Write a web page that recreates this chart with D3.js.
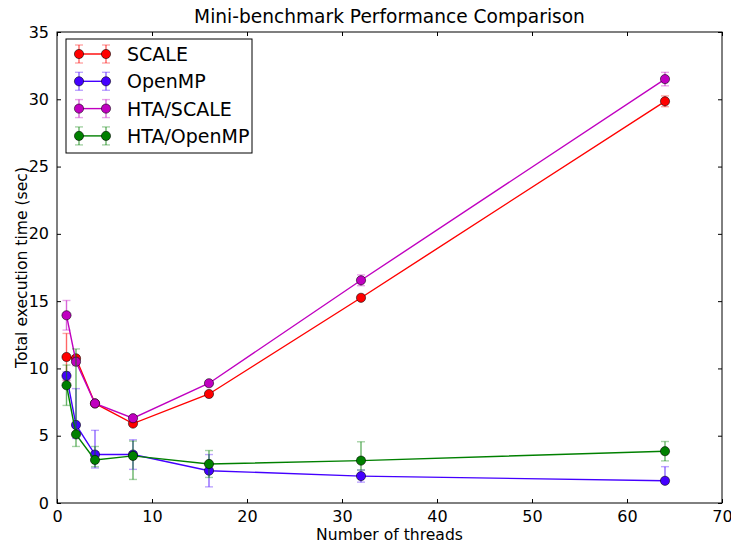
<!DOCTYPE html>
<html>
<head>
<meta charset="utf-8">
<script src="https://cdn.jsdelivr.net/npm/d3@7"></script>
<style>
  body { margin: 0; background: #fff; }
  text { font-family: "DejaVu Sans", sans-serif; fill: #000; }
</style>
</head>
<body>
<div id="chart"></div>
<script>
// threads
var threads = [1, 2, 4, 8, 16, 32, 64];

var seriesNames = ["SCALE", "OpenMP", "HTA/SCALE", "HTA/OpenMP"];
var seriesColors = ["#ff0000", "#4400ff", "#c000c0", "#008000"];

var scaleTimes = [10.85, 10.75, 7.4, 5.9, 8.1, 15.25, 29.85];
var scaleErrLow = [1.75, 0.2, 0.1, 0.1, 0.1, 0.1, 0.4];
var scaleErrHigh = [1.75, 0.2, 0.1, 0.1, 0.1, 0.1, 0.4];

var openmpTimes = [9.45, 5.8, 3.6, 3.6, 2.4, 2.0, 1.65];
var openmpErrLow = [0.3, 1.0, 1.0, 1.1, 1.2, 0.45, 0.2];
var openmpErrHigh = [0.3, 2.7, 1.8, 1.1, 1.2, 0.45, 1.05];

var htaScaleTimes = [13.95, 10.5, 7.4, 6.3, 8.9, 16.55, 31.5];
var htaScaleErrLow = [1.1, 0.3, 0.1, 0.15, 0.15, 0.4, 0.5];
var htaScaleErrHigh = [1.1, 0.3, 0.1, 0.15, 0.15, 0.4, 0.5];

var htaOpenmpTimes = [8.75, 5.1, 3.2, 3.5, 2.9, 3.15, 3.85];
var htaOpenmpErrLow = [1.5, 0.9, 0.5, 1.75, 1.0, 0.7, 0.72];
var htaOpenmpErrHigh = [1.5, 6.35, 1.0, 1.1, 1.0, 1.4, 0.72];

var xTicks = [0, 10, 20, 30, 40, 50, 60, 70];
var yTicks = [0, 5, 10, 15, 20, 25, 30, 35];

var width = 731, height = 544;
var margin = {left: 57, right: 9, top: 32, bottom: 41};

var svg = d3.select("#chart").append("svg")
    .attr("width", width)
    .attr("height", height);

var x = d3.scaleLinear().domain([0, 70]).range([margin.left, width - margin.right]);
var y = d3.scaleLinear().domain([0, 35]).range([height - margin.bottom, margin.top]);

var series = [
    {vals: scaleTimes, lo: scaleErrLow, hi: scaleErrHigh},
    {vals: openmpTimes, lo: openmpErrLow, hi: openmpErrHigh},
    {vals: htaScaleTimes, lo: htaScaleErrLow, hi: htaScaleErrHigh},
    {vals: htaOpenmpTimes, lo: htaOpenmpErrLow, hi: htaOpenmpErrHigh}
];

var plot = svg.append("g");

series.forEach(function (s, k) {
    var col = seriesColors[k];
    var pts = threads.map(function (t, i) {
        return {x: t, y: s.vals[i], lo: s.vals[i] - s.lo[i], hi: s.vals[i] + s.hi[i]};
    });
    var g = plot.append("g");
    g.append("path")
        .datum(pts)
        .attr("fill", "none")
        .attr("stroke", col)
        .attr("stroke-width", 1.4)
        .attr("d", d3.line().x(function (d) { return x(d.x); }).y(function (d) { return y(d.y); }));
    // error bars (semi transparent)
    var eb = g.append("g").attr("stroke", col).attr("stroke-opacity", 0.6).attr("stroke-width", 1.4);
    eb.selectAll("line.bar").data(pts).enter().append("line")
        .attr("x1", function (d) { return x(d.x); })
        .attr("x2", function (d) { return x(d.x); })
        .attr("y1", function (d) { return y(d.lo); })
        .attr("y2", function (d) { return y(d.hi); });
    ["lo", "hi"].forEach(function (key) {
        eb.selectAll("line.cap" + key).data(pts).enter().append("line")
            .attr("x1", function (d) { return x(d.x) - 4; })
            .attr("x2", function (d) { return x(d.x) + 4; })
            .attr("y1", function (d) { return y(d[key]); })
            .attr("y2", function (d) { return y(d[key]); })
            .attr("stroke-opacity", 0.35);
    });
    g.selectAll("circle").data(pts).enter().append("circle")
        .attr("cx", function (d) { return x(d.x); })
        .attr("cy", function (d) { return y(d.y); })
        .attr("r", 4.6)
        .attr("fill", col)
        .attr("stroke", "#000")
        .attr("stroke-opacity", 0.7)
        .attr("stroke-width", 0.8);
});

// frame
svg.append("rect")
    .attr("x", margin.left).attr("y", margin.top)
    .attr("width", width - margin.left - margin.right)
    .attr("height", height - margin.top - margin.bottom)
    .attr("fill", "none").attr("stroke", "#000").attr("stroke-width", 1);

// axes with inward ticks on all sides
var xAxisB = d3.axisBottom(x).tickValues(xTicks).tickSizeInner(-4).tickSizeOuter(0).tickPadding(8);
var xAxisT = d3.axisTop(x).tickValues(xTicks).tickSizeInner(-4).tickSizeOuter(0).tickFormat("");
var yAxisL = d3.axisLeft(y).tickValues(yTicks).tickSizeInner(-4).tickSizeOuter(0).tickPadding(8);
var yAxisR = d3.axisRight(y).tickValues(yTicks).tickSizeInner(-4).tickSizeOuter(0).tickFormat("");

function styleAxis(g) {
    g.select(".domain").remove();
    g.selectAll("text").style("font-size", "16px").attr("font-family", "DejaVu Sans").attr("fill", "#000");
}

svg.append("g").attr("transform", "translate(0," + (height - margin.bottom) + ")").call(xAxisB).call(styleAxis);
svg.append("g").attr("transform", "translate(0," + margin.top + ")").call(xAxisT).call(styleAxis);
svg.append("g").attr("transform", "translate(" + margin.left + ",0)").call(yAxisL).call(styleAxis);
svg.append("g").attr("transform", "translate(" + (width - margin.right) + ",0)").call(yAxisR).call(styleAxis);

// title and labels
svg.append("text")
    .attr("x", (x(0) + x(70)) / 2).attr("y", 23)
    .attr("text-anchor", "middle").style("font-size", "18.6px")
    .text("Mini-benchmark Performance Comparison");
svg.append("text")
    .attr("x", (x(0) + x(70)) / 2).attr("y", 540)
    .attr("text-anchor", "middle").style("font-size", "15.6px")
    .text("Number of threads");
svg.append("text")
    .attr("transform", "translate(27," + (y(17.5)) + ") rotate(-90)")
    .attr("text-anchor", "middle").style("font-size", "15.6px")
    .text("Total execution time (sec)");

// legend
var legend = svg.append("g").attr("transform", "translate(66,39)");
legend.append("rect")
    .attr("width", 186).attr("height", 114)
    .attr("fill", "#fff").attr("stroke", "#000").attr("stroke-width", 1);
seriesNames.forEach(function (name, k) {
    var col = seriesColors[k];
    var ly = 15 + k * 27.3;
    var row = legend.append("g").attr("transform", "translate(0," + ly + ")");
    row.append("line").attr("x1", 13).attr("x2", 40).attr("y1", 0).attr("y2", 0)
        .attr("stroke", col).attr("stroke-width", 1.4);
    [13, 40].forEach(function (cx) {
        row.append("line").attr("x1", cx).attr("x2", cx).attr("y1", -9).attr("y2", 9)
            .attr("stroke", col).attr("stroke-opacity", 0.6).attr("stroke-width", 1.4);
        row.append("line").attr("x1", cx - 4).attr("x2", cx + 4).attr("y1", -9).attr("y2", -9)
            .attr("stroke", col).attr("stroke-opacity", 0.35).attr("stroke-width", 1.4);
        row.append("line").attr("x1", cx - 4).attr("x2", cx + 4).attr("y1", 9).attr("y2", 9)
            .attr("stroke", col).attr("stroke-opacity", 0.35).attr("stroke-width", 1.4);
        row.append("circle").attr("cx", cx).attr("cy", 0).attr("r", 4.6)
            .attr("fill", col).attr("stroke", "#000").attr("stroke-opacity", 0.7).attr("stroke-width", 0.8);
    });
    row.append("text").attr("x", 61).attr("y", 7).style("font-size", "19px").text(name);
});
</script>
</body>
</html>
